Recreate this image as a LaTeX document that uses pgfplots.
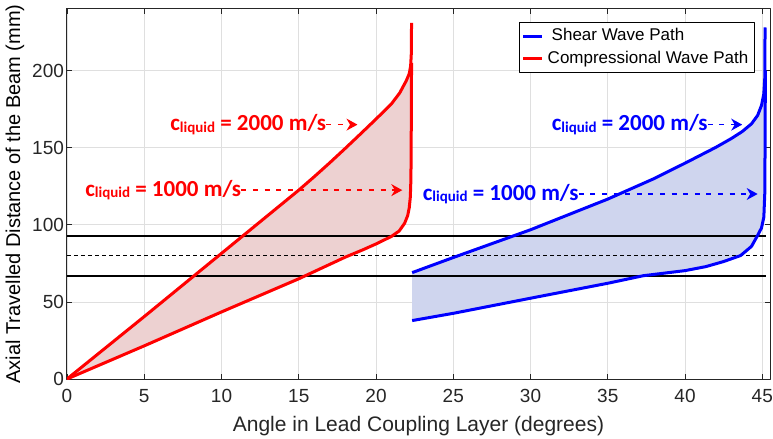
\documentclass[border=0pt]{standalone}
\usepackage{pgfplots}
\pgfplotsset{compat=1.18}
\usepackage{fontspec}
\setmainfont{Liberation Sans}
\newfontfamily\annfont{Carlito}
\usetikzlibrary{arrows.meta}
\definecolor{axgray}{RGB}{38,38,38}
\definecolor{gridgray}{RGB}{223,223,223}
\definecolor{redfill}{RGB}{237,209,209}
\definecolor{bluefill}{RGB}{207,213,238}
\newcommand{\cliq}{c\raisebox{-0.6pt}{\fontsize{7.5}{8}\selectfont liquid}}

\begin{document}
\begin{tikzpicture}
\begin{axis}[
    name=ax,
    scale only axis,
    width=351.5pt, height=185pt,
    xmin=0, xmax=45.5, ymin=0, ymax=240,
    xtick={0,5,...,45}, ytick={0,50,...,200},
    grid=major,
    major grid style={gridgray, line width=0.4pt},
    axis line style={axgray, line width=0.5pt},
    tick style={axgray, line width=0.4pt},
    tick align=inside,
    major tick length=2.5pt,
    ticklabel style={font=\fontsize{9.5}{11}\selectfont, text=axgray},
    xticklabel style={yshift=-1.5pt},
    yticklabel style={xshift=2pt},
    /pgf/number format/assume math mode=true,
    label style={font=\fontsize{10.5}{12}\selectfont, text=axgray},
    xlabel={Angle in Lead Coupling Layer (degrees)},
    ylabel={Axial Travelled Distance of the Beam (mm)},
    every axis y label/.style={at={(rel axis cs:0,0.5)}, xshift=-26pt, rotate=90, anchor=center},
    legend style={at={(0.979,0.966)}, anchor=north east, draw=black,
        line width=0.5pt, font=\fontsize{8.5}{10}\selectfont,
        inner sep=1.2pt, row sep=-0.5pt},
    legend cell align=left,
    legend image code/.code={\draw[#1] (0pt,0pt) -- (9.5pt,0pt);},
    line join=round,
]
% legend
\addlegendimage{blue, line width=1.5pt}
\addlegendentry{\hspace{2pt}Shear Wave Path}
\addlegendimage{red, line width=1.5pt}
\addlegendentry{Compressional Wave Path}

% filled regions
\addplot[fill=redfill, draw=none, forget plot] coordinates {
  (0,0) (5,40.5) (10,81.5) (15,122.5) (16,131.2) (17,140.2) (18,149.5)
  (19,159) (20,168.6) (21,178.5) (21.53,185.5) (21.96,193.5) (22.15,198)
  (22.24,203) (22.3,205)
  (22.28,160) (22.26,130) (22.22,118) (22.15,111) (22.05,106) (21.85,101)
  (21.5,96) (21,92.5) (20,87.6) (19.15,83.8) (18,79) (15,65) (10,43.5) (5,21.5) (0,0)};
\addplot[fill=bluefill, draw=none, forget plot] coordinates {
  (22.34,69) (25,78.8) (30,96.8) (35,116.7) (38,130) (40,140) (42,150.3)
  (43,156) (43.7,160.5) (44.3,165.5) (44.7,171) (44.95,177.5) (45.1,185)
  (45.16,195) (45.2,200) (45.18,150) (45.16,120) (45.1,105) (44.95,98)
  (44.69,93) (44.3,86) (43.6,80.1) (42.5,76.2) (41.35,72.9) (40,70.3)
  (37.3,67) (35,62.1) (30,52.4) (25,42.6) (22.34,37.9)};

% reference lines
\addplot[black, line width=1pt, forget plot] coordinates {(0,93) (45.23,93)};
\addplot[black, line width=0.4pt, dash pattern=on 2pt off 1.5pt, forget plot] coordinates {(0,80) (45.23,80)};
\addplot[black, line width=1pt, forget plot] coordinates {(0,67) (45.23,67)};

% compressional wave path
\addplot[red, line width=1.5pt, forget plot] coordinates {
  (0,0) (5,40.5) (10,81.5) (15,122.5) (16,131.2) (17,140.2) (18,149.5)
  (19,159) (20,168.6) (21,178.5) (21.53,185.5) (21.96,193.5) (22.15,198)
  (22.24,203) (22.28,210) (22.29,220) (22.3,231)};
\addplot[red, line width=1.5pt, forget plot] coordinates {
  (0,0) (5,21.5) (10,43.5) (15,65) (18,79) (19.15,83.8) (20,87.6) (21,92.5)
  (21.5,96) (21.85,101) (22.05,106) (22.15,111) (22.22,118) (22.26,130)
  (22.28,160) (22.3,205)};

% shear wave path
\addplot[blue, line width=1.5pt, forget plot] coordinates {
  (22.34,69) (25,78.8) (30,96.8) (35,116.7) (38,130) (40,140) (42,150.3)
  (43,156) (43.7,160.5) (44.3,165.5) (44.7,171) (44.95,177.5) (45.1,185)
  (45.16,195) (45.18,228)};
\addplot[blue, line width=1.5pt, forget plot] coordinates {
  (22.34,37.9) (25,42.6) (30,52.4) (35,62.1) (37.3,67) (40,70.3) (41.35,72.9)
  (42.5,76.2) (43.6,80.1) (44.3,86) (44.69,93) (44.95,98) (45.1,105)
  (45.16,120) (45.18,150) (45.2,200)};

% annotations
\coordinate (r2e) at (axis cs:18.8,165);
\coordinate (r1e) at (axis cs:21.7,122.5);
\coordinate (b2e) at (axis cs:43.7,165);
\coordinate (b1e) at (axis cs:44.7,120);
\tikzset{ann/.style={anchor=west, inner sep=0pt, font=\annfont\bfseries\fontsize{11.5}{12}\selectfont},
         annarrow/.style={line width=0.75pt, dash pattern=on 2.5pt off 3.3pt, -{Stealth[length=5.5pt,width=6pt]}}}
\node[ann, text=red] (r2) at (axis cs:6.66,165) {\cliq\ = 2000 m/s};
\draw[red, annarrow] (r2.east) -- (r2.east -| r2e);
\node[ann, text=red] (r1) at (axis cs:1.16,122.5) {\cliq\ = 1000 m/s};
\draw[red, annarrow] (r1.east) -- (r1.east -| r1e);
\node[ann, text=blue] (b2) at (axis cs:31.35,165) {\cliq\ = 2000 m/s};
\draw[blue, annarrow] (b2.east) -- (b2.east -| b2e);
\node[ann, text=blue] (b1) at (axis cs:23.0,120) {\cliq\ = 1000 m/s};
\draw[blue, annarrow] (b1.east) -- (b1.east -| b1e);
\end{axis}
\pgfresetboundingbox
\useasboundingbox ([xshift=-33.5pt,yshift=-29.5pt]ax.south west) rectangle ([xshift=1.5pt,yshift=4.5pt]ax.north east);
\end{tikzpicture}
\end{document}
